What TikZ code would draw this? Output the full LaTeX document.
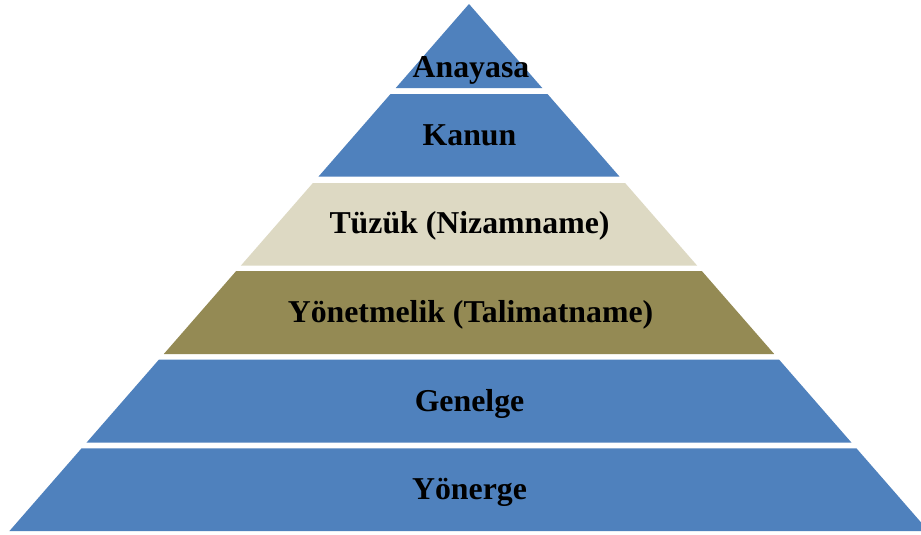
\documentclass[tikz,border=0pt]{standalone}
\usepackage{fontspec}
\setmainfont{Liberation Serif}
\begin{document}
\begin{tikzpicture}[x=1pt,y=-1pt]
\definecolor{pblue}{HTML}{4F81BD}
\definecolor{ptan}{HTML}{DDD9C3}
\definecolor{polive}{HTML}{948A54}
\tikzset{lbl/.style={anchor=base,font=\fontsize{31.8}{36}\selectfont\bfseries,inner sep=0pt,text=black}}
\useasboundingbox (0,0) rectangle (921,535);
\clip (0,0) rectangle (921,535);
\fill[white] (0,0) rectangle (921,535);
\def\apx{469}\def\apy{4}\def\pslope{0.872}
\foreach \tp/\bt/\cl in {4/88/pblue, 94/176.7/pblue, 183/265.7/ptan, 271/354/polive, 359.5/442.7/pblue, 448.3/531/pblue}{
  \fill[\cl] ({\apx-\pslope*(\tp-\apy)},\tp) -- ({\apx+\pslope*(\tp-\apy)},\tp) -- ({\apx+\pslope*(\bt-\apy)},\bt) -- ({\apx-\pslope*(\bt-\apy)},\bt) -- cycle;
}
\node[lbl] (anayasa) at (471,77.3) {Anayasa};
\node[lbl] (kanun) at (469.5,145) {Kanun};
\node[lbl] (tuzuk) at (469.5,233.3) {Tüzük (Nizamname)};
\node[lbl] (yonetmelik) at (470.5,322.5) {Yönetmelik (Talimatname)};
\node[lbl] (genelge) at (469.5,411.5) {Genelge};
\node[lbl] (yonerge) at (469.5,499.5) {Yönerge};
\end{tikzpicture}
\end{document}
